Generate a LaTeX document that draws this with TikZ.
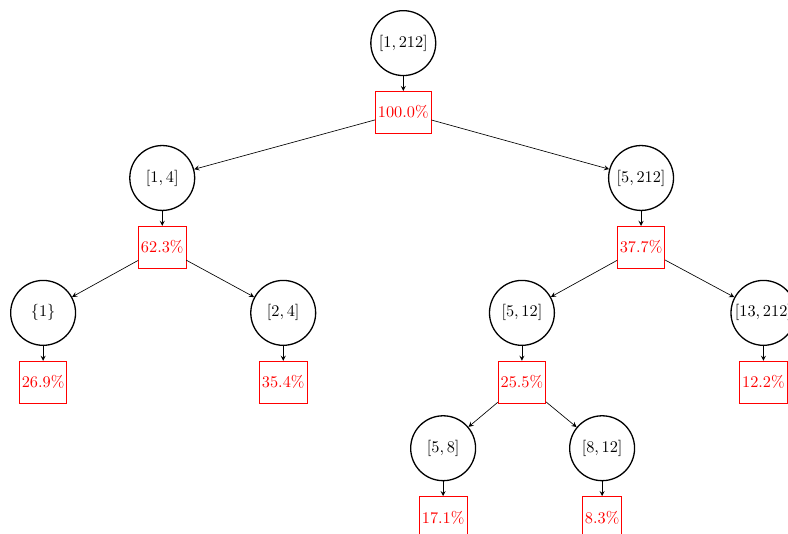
\documentclass[tikz,border=0pt]{standalone}
\usepackage{amsmath, amssymb}
\usepackage{xcolor}
\usetikzlibrary{shapes, arrows, positioning, calc}

\begin{document}
\begin{tikzpicture}[
        node distance=0.32cm,
        interval/.style={circle, draw, thick, minimum size=1.4cm, inner sep=0pt},
        share/.style={rectangle, draw=red, text=red, minimum height=0.9cm, inner xsep=1.5pt},
        >=stealth
    ]
        \clip (0,0) rectangle (17.0,-11.5);

        % Intervals
        \node[interval] (i1) at (8.70,-0.93) {$[1,212]$};
        \node[interval] (i2) at (3.50,-3.84) {$[1,4]$};
        \node[interval] (i3) at (13.83,-3.84) {$[5,212]$};
        \node[interval] (i4) at (0.93,-6.75) {$\{1\}$};
        \node[interval] (i5) at (6.11,-6.75) {$[2,4]$};
        \node[interval] (i6) at (11.26,-6.75) {$[5,12]$};
        \node[interval] (i7) at (16.47,-6.75) {$[13,212]$};
        \node[interval] (i8) at (9.56,-9.67) {$[5,8]$};
        \node[interval] (i9) at (12.99,-9.67) {$[8,12]$};

        % Shares
        \node[share, below=of i1] (s1) {100.0\%};
        \node[share, below=of i2] (s2) {62.3\%};
        \node[share, below=of i3] (s3) {37.7\%};
        \node[share, below=of i4] (s4) {26.9\%};
        \node[share, below=of i5] (s5) {35.4\%};
        \node[share, below=of i6] (s6) {25.5\%};
        \node[share, below=of i7] (s7) {12.2\%};
        \node[share, below=of i8] (s8) {17.1\%};
        \node[share, below=of i9] (s9) {8.3\%};

        % Interval to share
        \foreach \k in {1,...,9}
            \draw[->] (i\k) -- (s\k);

        % Splits
        \draw[->] (s1) -- (i2);
        \draw[->] (s1) -- (i3);
        \draw[->] (s2) -- (i4);
        \draw[->] (s2) -- (i5);
        \draw[->] (s3) -- (i6);
        \draw[->] (s3) -- (i7);
        \draw[->] (s6) -- (i8);
        \draw[->] (s6) -- (i9);

    \end{tikzpicture}
\end{document}
